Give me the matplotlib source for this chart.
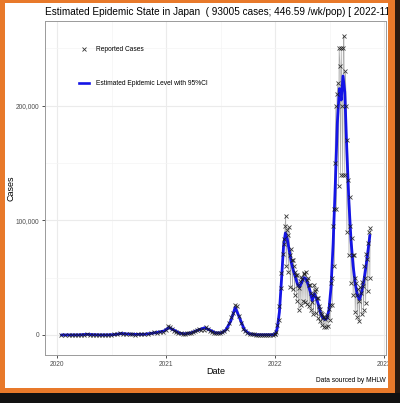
import numpy as np
import pandas as pd
import matplotlib
matplotlib.use("Agg")
import matplotlib.pyplot as plt
from matplotlib.lines import Line2D
from matplotlib.patches import Rectangle
from matplotlib.ticker import FuncFormatter, MultipleLocator

plt.rcParams['font.family'] = ['Liberation Sans', 'DejaVu Sans']

# estimated epidemic level
est_dates = [
    "2020-01-16", "2020-02-15", "2020-03-15", "2020-04-10", "2020-05-01", "2020-05-25",
    "2020-06-20", "2020-07-10", "2020-08-05", "2020-08-25", "2020-09-20", "2020-10-20",
    "2020-11-15", "2020-12-01", "2020-12-25", "2021-01-10", "2021-01-25", "2021-02-15",
    "2021-03-05", "2021-03-25", "2021-04-15", "2021-05-10", "2021-05-25", "2021-06-15",
    "2021-07-05", "2021-07-20", "2021-08-05", "2021-08-20", "2021-09-05", "2021-09-20",
    "2021-10-05", "2021-10-25", "2021-11-20", "2021-12-20",
    "2022-01-01", "2022-01-08", "2022-01-15", "2022-01-22", "2022-01-29", "2022-02-04",
    "2022-02-10", "2022-02-17", "2022-02-24", "2022-03-03", "2022-03-10", "2022-03-17",
    "2022-03-24", "2022-03-31", "2022-04-07", "2022-04-14", "2022-04-21", "2022-04-28",
    "2022-05-05", "2022-05-12", "2022-05-19", "2022-05-26", "2022-06-02", "2022-06-09",
    "2022-06-16", "2022-06-23", "2022-06-30", "2022-07-07", "2022-07-14", "2022-07-21",
    "2022-07-28", "2022-08-04", "2022-08-10", "2022-08-16", "2022-08-22", "2022-08-29",
    "2022-09-05", "2022-09-12", "2022-09-19", "2022-09-26", "2022-10-03", "2022-10-10",
    "2022-10-17", "2022-10-24", "2022-10-31", "2022-11-07", "2022-11-14",
]
est_level = [
    0, 10, 40, 550, 250, 30,
    60, 300, 1300, 800, 500, 600,
    1500, 2200, 3500, 6500, 4500, 1500,
    1000, 1800, 4000, 6300, 4500, 1800,
    1800, 4500, 12000, 24000, 14000, 4500,
    1200, 250, 120, 200,
    500, 6000, 20000, 48000, 78000, 89000,
    84000, 74000, 63000, 56000, 50000, 44000,
    42000, 46000, 50000, 49000, 44000, 38000,
    30000, 36000, 32000, 26000, 19000, 15000,
    13500, 14500, 22000, 42000, 80000, 130000,
    185000, 215000, 205000, 226000, 212000, 160000,
    115000, 82000, 60000, 45000, 35000, 31000,
    37000, 46000, 58000, 72000, 87000,
]

# reported daily cases
rep_dates = [
    "2020-01-16", "2020-01-28", "2020-02-10", "2020-02-20", "2020-03-01", "2020-03-10",
    "2020-03-20", "2020-03-31", "2020-04-10", "2020-04-20", "2020-04-30", "2020-05-10",
    "2020-05-20", "2020-05-31", "2020-06-10", "2020-06-20", "2020-06-30", "2020-07-10",
    "2020-07-20", "2020-07-31", "2020-08-10", "2020-08-20", "2020-08-31", "2020-09-10",
    "2020-09-20", "2020-09-30", "2020-10-10", "2020-10-20", "2020-10-31", "2020-11-10",
    "2020-11-20", "2020-11-30", "2020-12-10", "2020-12-20", "2020-12-31",
    "2021-01-07", "2021-01-14", "2021-01-21", "2021-01-28", "2021-02-04", "2021-02-11",
    "2021-02-18", "2021-02-25", "2021-03-04", "2021-03-11", "2021-03-18", "2021-03-25",
    "2021-04-01", "2021-04-08", "2021-04-15", "2021-04-22", "2021-04-29", "2021-05-06",
    "2021-05-13", "2021-05-20", "2021-05-27", "2021-06-03", "2021-06-10", "2021-06-17",
    "2021-06-24", "2021-07-01", "2021-07-08", "2021-07-15", "2021-07-22", "2021-07-29",
    "2021-08-05", "2021-08-12", "2021-08-19", "2021-08-26", "2021-09-02", "2021-09-09",
    "2021-09-16", "2021-09-23", "2021-09-30", "2021-10-07", "2021-10-14", "2021-10-21",
    "2021-10-28", "2021-11-04", "2021-11-11", "2021-11-18", "2021-11-25", "2021-12-02",
    "2021-12-09", "2021-12-16", "2021-12-23", "2021-12-30",
    "2022-01-01", "2022-01-05", "2022-01-08", "2022-01-12", "2022-01-15", "2022-01-19",
    "2022-01-22", "2022-01-26", "2022-01-29", "2022-02-01", "2022-02-03", "2022-02-05",
    "2022-02-07", "2022-02-09", "2022-02-12", "2022-02-14", "2022-02-16", "2022-02-19",
    "2022-02-21", "2022-02-24", "2022-02-26", "2022-02-28", "2022-03-02", "2022-03-05",
    "2022-03-07", "2022-03-09", "2022-03-12", "2022-03-14", "2022-03-16", "2022-03-19",
    "2022-03-21", "2022-03-23", "2022-03-26", "2022-03-28", "2022-03-30", "2022-04-02",
    "2022-04-04", "2022-04-06", "2022-04-09", "2022-04-11", "2022-04-13", "2022-04-16",
    "2022-04-18", "2022-04-20", "2022-04-23", "2022-04-25", "2022-04-27", "2022-04-30",
    "2022-05-02", "2022-05-04", "2022-05-07", "2022-05-09", "2022-05-11", "2022-05-14",
    "2022-05-16", "2022-05-18", "2022-05-21", "2022-05-23", "2022-05-25", "2022-05-28",
    "2022-05-30", "2022-06-01", "2022-06-04", "2022-06-06", "2022-06-08", "2022-06-11",
    "2022-06-13", "2022-06-15", "2022-06-18", "2022-06-20", "2022-06-22", "2022-06-25",
    "2022-06-27", "2022-06-29", "2022-07-02", "2022-07-04", "2022-07-06", "2022-07-09",
    "2022-07-11", "2022-07-13", "2022-07-16", "2022-07-18", "2022-07-20", "2022-07-23",
    "2022-07-25", "2022-07-27", "2022-07-30", "2022-08-01", "2022-08-03", "2022-08-06",
    "2022-08-08", "2022-08-10", "2022-08-13", "2022-08-15", "2022-08-17", "2022-08-19",
    "2022-08-22", "2022-08-24", "2022-08-27", "2022-08-29", "2022-08-31", "2022-09-03",
    "2022-09-05", "2022-09-07", "2022-09-10", "2022-09-12", "2022-09-14", "2022-09-17",
    "2022-09-19", "2022-09-21", "2022-09-24", "2022-09-26", "2022-09-28", "2022-10-01",
    "2022-10-03", "2022-10-05", "2022-10-08", "2022-10-10", "2022-10-12", "2022-10-15",
    "2022-10-17", "2022-10-19", "2022-10-22", "2022-10-24", "2022-10-26", "2022-10-29",
    "2022-10-31", "2022-11-02", "2022-11-05", "2022-11-07", "2022-11-09", "2022-11-12",
    "2022-11-14", "2022-11-15",
]
rep_cases = [
    1, 2, 5, 10, 20, 40,
    40, 250, 580, 370, 160, 40,
    30, 40, 40, 70, 120, 430,
    510, 1580, 800, 1200, 430, 650,
    380, 570, 650, 420, 870, 1280,
    2420, 1430, 2800, 2500, 4500,
    7600, 6600, 5600, 3500, 2600, 1700,
    1500, 1100, 1100, 1300, 1500, 2000,
    2600, 3400, 4500, 5500, 4700, 4400,
    6900, 5200, 3800, 2900, 1900, 1700,
    1700, 1800, 2200, 3400, 5400, 10700,
    15300, 18900, 25800, 24900, 16700, 10400,
    5100, 3600, 1900, 800, 600, 400,
    240, 220, 200, 150, 120, 110,
    140, 180, 290, 500,
    500, 2600, 8500, 13000, 25000, 41000,
    54000, 71000, 84000, 79000, 95000, 104000,
    60000, 92000, 87000, 55000, 94000, 70000,
    42000, 75000, 65000, 40000, 65000, 60000,
    35000, 55000, 52000, 30000, 52000, 44000,
    22000, 41000, 47000, 26000, 51000, 49000,
    30000, 54000, 53000, 29000, 55000, 48000,
    27000, 50000, 44000, 25000, 44000, 37000,
    22000, 29000, 35000, 18000, 44000, 38000,
    19000, 40000, 32000, 15000, 32000, 25000,
    12000, 23000, 19000, 9000, 18000, 16000,
    7000, 16000, 14000, 7000, 16000, 17000,
    8000, 23000, 26000, 13000, 45000, 50000,
    26000, 95000, 110000, 60000, 150000, 200000,
    110000, 210000, 220000, 130000, 250000, 235000,
    140000, 250000, 200000, 140000, 250000, 261000,
    140000, 230000, 200000, 90000, 170000, 135000,
    70000, 120000, 95000, 45000, 85000, 70000,
    35000, 70000, 50000, 20000, 45000, 35000,
    16000, 40000, 30000, 12000, 42000, 37000,
    18000, 46000, 43000, 22000, 60000, 50000,
    28000, 71000, 66000, 38000, 80000, 90000,
    50000, 93005,
]

title = "Estimated Epidemic State in Japan  ( 93005 cases; 446.59 /wk/pop) [ 2022-11-15 ]"
year_ticks = ["2020-01-01", "2021-01-01", "2022-01-01", "2023-01-01"]
year_labels = ["2020", "2021", "2022", "2023"]

est_x = pd.to_datetime(est_dates)
rep_x = pd.to_datetime(rep_dates)

W, H = 400, 403
fig = plt.figure(figsize=(W / 100, H / 100), dpi=100)
fig.patch.set_facecolor("white")

ax = fig.add_axes([45 / W, 1 - 355 / H, (386 - 45) / W, (355 - 21) / H])
ax.set_facecolor("white")

# "CI" whiskers as a thin zigzag through the reported points
ax.plot(rep_x, rep_cases, color="#a8a8a8", lw=0.5, zorder=2)
ax.plot(est_x, est_level, color="#1414e6", lw=2.0, zorder=3, solid_capstyle="round")
ax.plot(rep_x, rep_cases, ls="none", marker="x", ms=3.4, mew=0.6,
        color="#1a1a1a", alpha=0.85, zorder=4)

ax.set_xlim(pd.Timestamp("2019-11-22"), pd.Timestamp("2023-01-07"))
ax.set_ylim(-17500, 274000)

ax.set_xticks(pd.to_datetime(year_ticks))
ax.set_xticklabels(year_labels)
ax.set_xticks(pd.to_datetime(["2020-07-02", "2021-07-02", "2022-07-02"]), minor=True)
ax.yaxis.set_major_locator(MultipleLocator(100000))
ax.yaxis.set_minor_locator(MultipleLocator(50000))
ax.yaxis.set_major_formatter(FuncFormatter(lambda v, p: f"{int(v):,}"))

ax.grid(which="major", color="#ebebeb", lw=0.8)
ax.grid(which="minor", color="#f4f4f4", lw=0.5)
ax.set_axisbelow(True)
ax.tick_params(which="major", length=2.5, width=0.6, color="#333333",
               labelsize=4.8, labelcolor="#4d4d4d", pad=1.5)
ax.tick_params(which="minor", length=0)
for s in ax.spines.values():
    s.set_color("#9a9a9a")
    s.set_linewidth(0.7)

fig.text(45 / W, 1 - 12 / H, title, fontsize=7.2, ha="left", va="center")
fig.text(11 / W, 1 - 188 / H, "Cases", fontsize=6.5, rotation=90, ha="center", va="center")
fig.text(216 / W, 1 - 371 / H, "Date", fontsize=6.5, ha="center", va="center")
fig.text(386 / W, 1 - 381 / H, "Data sourced by MHLW", fontsize=4.8, ha="right", va="center")

handles = [
    Line2D([], [], ls="none", marker="x", ms=3.2, mew=0.6, color="#333333"),
    Line2D([], [], color="#1414e6", lw=1.9),
]
ax.legend(handles, ["Reported Cases", "Estimated Epidemic Level with 95%CI"],
          loc="upper left", bbox_to_anchor=(76 / W, 1 - 43 / H),
          bbox_transform=fig.transFigure, frameon=False, fontsize=4.8,
          handlelength=1.5, handletextpad=1.0, labelspacing=4.0, borderpad=0)

# screenshot frame
frame = [
    (0, 0, 5 / W, 1),
    (0, 1 - 3 / H, 1, 3 / H),
    (388 / W, 0, 7 / W, 1),
    (0, 10 / H, 395 / W, 5 / H),
]
for x0, y0, w, h in frame:
    fig.patches.append(Rectangle((x0, y0), w, h, transform=fig.transFigure,
                                 fc="#e8792a", ec="none", zorder=10))
fig.patches.append(Rectangle((395 / W, 0), 5 / W, 1, transform=fig.transFigure,
                             fc="#2a1a10", ec="none", zorder=10))
fig.patches.append(Rectangle((0, 0), 1, 10 / H, transform=fig.transFigure,
                             fc="#111111", ec="none", zorder=10))

fig.savefig("out.png", dpi=100)
